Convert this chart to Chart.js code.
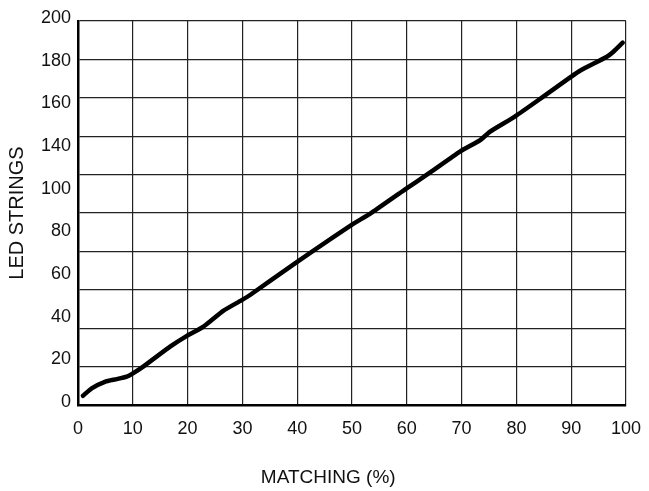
<!DOCTYPE html>
<html>
<head>
<meta charset="utf-8">
<script src="https://cdn.jsdelivr.net/npm/chart.js@4/dist/chart.umd.min.js"></script>
<style>
  html, body { margin: 0; padding: 0; background: #ffffff; }
  #wrap { width: 649px; height: 491px; }
</style>
</head>
<body>
<div id="wrap"><canvas id="c" width="649" height="491"></canvas></div>
<script>
// Data
const matchingPct = [0.9, 2.5, 4.9, 7.1, 8.9, 9.8, 11.9, 16.8, 19.8, 22.9, 26.5, 29.8, 31.4, 39.6, 49.6, 53.6, 59.7, 64.2, 69.7, 73.4, 75.2, 79.7, 84.9, 90, 91.6, 96.5, 97.7, 99.4];
const ledStrings  = [4.8, 8.7, 12.1, 13.5, 14.8, 16.1, 20, 30.4, 35.9, 40.8, 49, 54.5, 57.3, 73.8, 93.2, 100.2, 112.3, 121, 132, 138, 142.4, 150.2, 160.6, 171, 174.1, 181.4, 184, 188.7];
const xTickLabels = ['0', '10', '20', '30', '40', '50', '60', '70', '80', '90', '100'];
const yTickLabels = ['0', '20', '40', '60', '80', '100', '140', '160', '180', '200'];

const points = matchingPct.map((x, i) => ({ x: x, y: ledStrings[i] }));
const FONT = '"Liberation Sans", Arial, Helvetica, sans-serif';
const GRID = '#222222';

new Chart(document.getElementById('c'), {
  type: 'line',
  data: {
    datasets: [{
      data: points,
      borderColor: '#000000',
      borderWidth: 4.5,
      pointRadius: 0,
      tension: 0.2,
      fill: false,
      borderCapStyle: 'round',
      borderJoinStyle: 'round'
    }]
  },
  options: {
    responsive: false,
    animation: false,
    devicePixelRatio: 1,
    layout: { padding: { left: 0, right: 23, top: 21, bottom: 0 } },
    plugins: { legend: { display: false }, tooltip: { enabled: false } },
    scales: {
      x: {
        type: 'linear',
        min: 0, max: 100,
        grid: { color: GRID, lineWidth: 1.2, drawTicks: false },
        border: { display: true, color: '#000000', width: 2.5 },
        ticks: {
          stepSize: 10,
          padding: 13,
          color: '#111111',
          font: { family: FONT, size: 18 },
          maxRotation: 0,
          autoSkip: false,
          callback: (v) => xTickLabels[Math.round(v / 10)]
        },
        title: {
          display: true,
          text: 'MATCHING (%)         ',
          color: '#111111',
          font: { family: FONT, size: 19 },
          padding: { top: 0, bottom: 2 }
        },
        afterFit: (s) => { s.height = 86; s.paddingRight = 0; s.paddingLeft = 0; }
      },
      y: {
        type: 'linear',
        position: 'left',
        weight: 0,
        min: 0, max: 200,
        grid: { color: GRID, lineWidth: 1.2, drawTicks: false },
        border: { display: true, color: '#000000', width: 2.5 },
        ticks: { stepSize: 20, display: false },
        afterFit: (s) => { s.width = 0; }
      },
      yl: {
        type: 'linear',
        position: 'left',
        weight: 1,
        min: 0, max: 9,
        grid: { display: false, drawTicks: false },
        border: { display: false },
        ticks: {
          stepSize: 1,
          padding: 7,
          labelOffset: -3,
          color: '#111111',
          autoSkip: false,
          font: { family: FONT, size: 18 },
          callback: (v) => yTickLabels[v]
        },
        title: {
          display: true,
          text: 'LED STRINGS',
          color: '#111111',
          font: { family: FONT, size: 20 },
          padding: { top: 5, bottom: 0 }
        },
        afterFit: (s) => { s.width = 78; }
      }
    }
  }
});
</script>
</body>
</html>
